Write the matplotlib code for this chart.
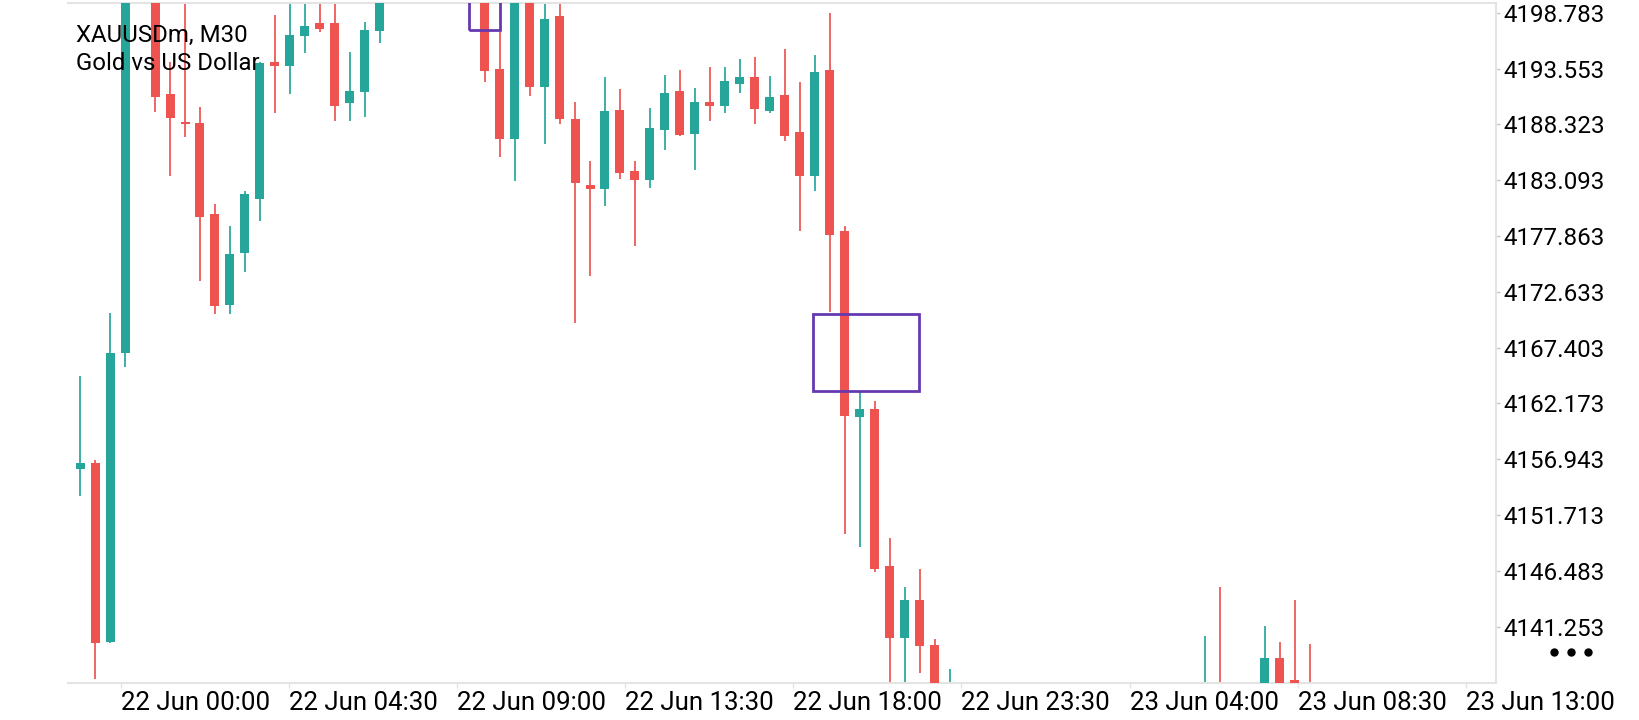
import matplotlib
matplotlib.use("Agg")
import matplotlib.pyplot as plt  # noqa: E402
from matplotlib.lines import Line2D  # noqa: E402
from matplotlib.patches import Rectangle  # noqa: E402

plt.rcParams["font.family"] = ["Roboto", "DejaVu Sans"]

SYMBOL = "XAUUSDm, M30"
DESCRIPTION = "Gold vs US Dollar"

# M30 bars, oldest first (bars outside the visible price range are clipped)
opens = [
    4156.06, 4156.56, 4139.85, 4166.87, 4201.2, 4202.0, 4191.14, 4188.57, 4188.42, 4179.92,
    4171.39, 4176.29, 4181.32, 4194.16, 4193.81, 4196.63, 4197.79, 4197.79, 4190.29, 4191.38,
    4197.09, 4201.8, 4204.7, 4205.9, 4203.4, 4204.2, 4203.6, 4201.5, 4193.51, 4186.92,
    4200.9, 4191.85, 4198.47, 4188.82, 4182.64, 4182.29, 4189.66, 4183.95, 4183.10, 4187.79,
    4191.47, 4187.41, 4190.41, 4190.04, 4192.13, 4192.76, 4189.57, 4191.07, 4187.60, 4183.51,
    4193.41, 4178.35, 4160.93, 4161.65, 4146.94, 4140.22, 4143.75, 4139.54, 4134.6, 4135.6,
    4132.8, 4133.9, 4132.1, 4130.2, 4132.3, 4133.5, 4132.7, 4131.4, 4132.6, 4134.1,
    4133.3, 4131.8, 4133.0, 4134.6, 4133.2, 4134.3, 4135.4, 4133.5, 4134.7, 4133.9,
    4138.35, 4136.26, 4135.5,
]
highs = [
    4164.74, 4156.87, 4170.62, 4203.0, 4204.0, 4203.2, 4194.19, 4200.5, 4189.92, 4180.86,
    4178.79, 4182.07, 4194.19, 4198.57, 4200.2, 4200.3, 4200.5, 4200.5, 4195.07, 4197.88,
    4203.0, 4205.6, 4207.2, 4206.8, 4205.1, 4206.0, 4204.4, 4202.3, 4197.0, 4202.0,
    4201.6, 4200.4, 4200.8, 4190.39, 4184.89, 4192.78, 4191.63, 4184.89, 4189.85, 4192.94,
    4193.41, 4191.72, 4193.69, 4193.69, 4194.44, 4194.63, 4192.85, 4195.38, 4192.29, 4194.82,
    4198.75, 4178.79, 4163.25, 4162.40, 4149.53, 4144.94, 4146.66, 4140.07, 4137.26, 4135.8,
    4134.9, 4135.2, 4133.7, 4132.8, 4134.6, 4135.1, 4134.0, 4133.2, 4134.8, 4135.5,
    4134.3, 4133.9, 4135.4, 4135.6, 4135.3, 4140.38, 4144.97, 4135.2, 4135.6, 4141.32,
    4139.82, 4143.75, 4139.63,
]
lows = [
    4153.53, 4136.32, 4139.72, 4165.61, 4200.4, 4189.51, 4183.51, 4187.16, 4173.67, 4170.52,
    4170.55, 4174.51, 4179.29, 4189.35, 4191.16, 4194.98, 4196.94, 4188.66, 4188.66, 4189.04,
    4195.97, 4200.9, 4203.5, 4202.6, 4201.7, 4202.9, 4200.8, 4192.32, 4185.29, 4183.04,
    4191.00, 4186.45, 4188.33, 4169.68, 4174.14, 4180.70, 4183.20, 4176.95, 4182.38, 4185.92,
    4187.20, 4184.04, 4188.63, 4189.38, 4191.26, 4188.35, 4189.38, 4186.76, 4178.35, 4182.10,
    4170.77, 4149.96, 4148.75, 4146.40, 4134.8, 4135.1, 4136.94, 4134.2, 4133.8, 4131.9,
    4130.6, 4131.4, 4129.5, 4128.9, 4131.0, 4132.2, 4130.8, 4129.7, 4131.5, 4132.9,
    4131.2, 4130.4, 4132.1, 4132.7, 4131.9, 4133.1, 4132.6, 4131.8, 4132.9, 4132.8,
    4133.4, 4134.1, 4132.9,
]
closes = [
    4156.56, 4139.75, 4166.87, 4201.5, 4203.1, 4190.91, 4188.89, 4188.38, 4179.67, 4171.33,
    4176.17, 4181.79, 4194.10, 4193.76, 4196.69, 4197.53, 4197.25, 4190.07, 4191.47, 4197.16,
    4201.8, 4204.7, 4205.9, 4203.4, 4204.2, 4203.6, 4201.5, 4193.35, 4186.98, 4201.2,
    4191.85, 4198.19, 4188.79, 4182.80, 4182.29, 4189.57, 4183.79, 4183.10, 4187.98, 4191.26,
    4187.32, 4190.41, 4190.04, 4192.38, 4192.76, 4189.76, 4190.88, 4187.23, 4183.51, 4193.22,
    4177.98, 4161.02, 4161.65, 4146.66, 4140.22, 4143.75, 4139.47, 4135.0, 4135.6, 4132.8,
    4133.9, 4132.1, 4130.2, 4132.3, 4133.5, 4132.7, 4131.4, 4132.6, 4134.1, 4133.3,
    4131.8, 4133.0, 4134.6, 4133.2, 4134.3, 4135.4, 4133.5, 4134.7, 4133.9, 4138.35,
    4134.6, 4136.0, 4134.1,
]

time_labels = [
    "22 Jun 00:00", "22 Jun 04:30", "22 Jun 09:00", "22 Jun 13:30", "22 Jun 18:00",
    "22 Jun 23:30", "23 Jun 04:00", "23 Jun 08:30", "23 Jun 13:00",
]
price_ticks = [
    4198.783, 4193.553, 4188.323, 4183.093, 4177.863, 4172.633,
    4167.403, 4162.173, 4156.943, 4151.713, 4146.483, 4141.253,
]

# rectangle objects on the chart: (from bar, to bar, low price, high price)
box_bars = [(25.93, 28.0), (48.89, 55.93)]
box_prices = [(4197.16, 4204.0), (4163.37, 4170.55)]

UP = "#26a69a"
DOWN = "#ef5350"
BOX = "#6639b0"
GRID = "#e4e4e4"

W, H = 1640, 720
fig = plt.figure(figsize=(W / 100, H / 100), dpi=100)
ax = fig.add_axes([68 / W, 37 / H, (1496 - 68) / W, 680 / H])

for i, (o, h, l, c) in enumerate(zip(opens, highs, lows, closes)):
    col = UP if c >= o else DOWN
    ax.vlines(i, l, h, color=col, lw=1.25, zorder=2)
    lo, hi = min(o, c), max(o, c)
    ax.bar(i, max(hi - lo, 0.2), bottom=lo, width=0.6, color=col, lw=0, zorder=3)

for (x0, x1), (p0, p1) in zip(box_bars, box_prices):
    ax.add_patch(Rectangle((x0, p0), x1 - x0, p1 - p0, fill=False,
                           edgecolor=BOX, lw=2.0, zorder=4))

ax.set_xlim(-0.8, 94.4)
ax.set_ylim(4135.98, 4199.69)

label_start, label_step = 2.73, 11.207
ax.set_xticks([label_start + k * label_step for k in range(len(time_labels))])
ax.set_xticklabels(time_labels)
for lab in ax.get_xticklabels():
    lab.set_horizontalalignment("left")

ax.yaxis.tick_right()
ax.set_yticks(price_ticks)
ax.set_yticklabels([f"{p:.3f}" for p in price_ticks])

ax.tick_params(axis="x", length=3.5, width=1, color=GRID, pad=2.5, labelsize=18.6)
ax.tick_params(axis="y", length=3, width=1, color="#c8c8c8", pad=2.5, labelsize=17.4)

ax.spines["left"].set_visible(False)
for side in ("top", "right", "bottom"):
    ax.spines[side].set_color(GRID)
    ax.spines[side].set_linewidth(1.5)

fig.text(76 / W, 1 - 42 / H, SYMBOL, fontsize=17.3, va="baseline", zorder=10)
fig.text(76 / W, 1 - 70 / H, DESCRIPTION, fontsize=17.3, va="baseline", zorder=10)

fig.add_artist(Line2D([1554 / W, 1571 / W, 1588 / W], [1 - 652 / H] * 3,
                      transform=fig.transFigure, ls="none", marker="o",
                      ms=5, color="black"))

fig.savefig("out.png", dpi=100)
